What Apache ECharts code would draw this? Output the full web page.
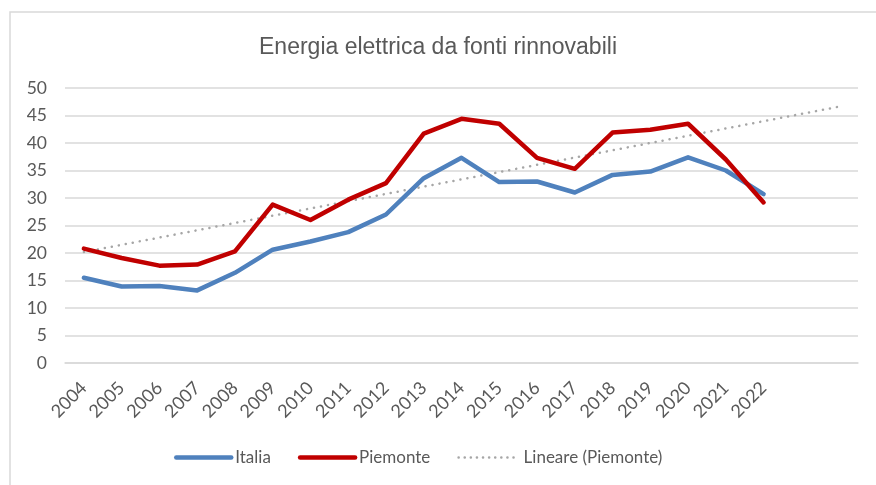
<!DOCTYPE html>
<html>
<head>
<meta charset="utf-8">
<script src="https://cdn.jsdelivr.net/npm/echarts@6/dist/echarts.min.js"></script>
<style>
  html, body { margin: 0; padding: 0; background: #fff; }
  #chart { width: 876px; height: 485px; }
</style>
</head>
<body>
<div id="chart"></div>
<script>
// Years shown on the category axis; two blank slots carry the trend forecast.
const years = ['2004','2005','2006','2007','2008','2009','2010','2011','2012','2013',
               '2014','2015','2016','2017','2018','2019','2020','2021','2022'];
const forecastSlots = ['', ''];

// Share of electricity from renewable sources (%)
const italia   = [15.5, 13.9, 14.0, 13.2, 16.4, 20.6, 22.1, 23.8, 27.0, 33.6,
                  37.3, 32.9, 33.0, 31.0, 34.2, 34.8, 37.4, 35.0, 30.7];
const piemonte = [20.8, 19.1, 17.7, 17.9, 20.3, 28.8, 26.0, 29.7, 32.7, 41.7,
                  44.4, 43.5, 37.3, 35.3, 41.9, 42.4, 43.5, 37.0, 29.2];

const yTicks = { min: 0, max: 50, interval: 5 };

// Least-squares linear trend of the Piemonte series, extended over the forecast slots
function linearTrend(values, extra) {
  const n = values.length;
  let sx = 0, sy = 0, sxx = 0, sxy = 0;
  values.forEach((v, i) => { sx += i; sy += v; sxx += i * i; sxy += i * v; });
  const slope = (n * sxy - sx * sy) / (n * sxx - sx * sx);
  const icpt = (sy - slope * sx) / n;
  const out = [];
  for (let i = 0; i < n + extra; i++) out.push(+(icpt + slope * i).toFixed(3));
  return out;
}
const trend = linearTrend(piemonte, forecastSlots.length);

const textColor = '#595959';
const font = 'Lato, "Liberation Sans", sans-serif';
const titleFont = '"Liberation Sans", Arial, sans-serif';

const chart = echarts.init(document.getElementById('chart'), null, { renderer: 'canvas' });
chart.setOption({
  backgroundColor: '#ffffff',
  animation: false,
  graphic: [{
    type: 'rect',
    shape: { x: 10, y: 12, width: 900, height: 500 },
    style: { fill: 'none', stroke: '#d9d9d9', lineWidth: 1.5 },
    silent: true
  }],
  title: {
    text: 'Energia elettrica da fonti rinnovabili',
    left: 'center',
    top: 31,
    textStyle: { color: textColor, fontSize: 23, fontWeight: 'normal', fontFamily: titleFont }
  },
  grid: { left: 65, right: 18, top: 88, bottom: 122, containLabel: false },
  xAxis: {
    type: 'category',
    data: years.concat(forecastSlots),
    boundaryGap: true,
    axisLine: { show: true, lineStyle: { color: '#d9d9d9', width: 1.5 } },
    axisTick: { show: false },
    axisLabel: {
      rotate: 45, interval: 0, color: textColor, fontSize: 18, fontFamily: font, margin: 22
    }
  },
  yAxis: {
    type: 'value',
    min: yTicks.min, max: yTicks.max, interval: yTicks.interval,
    axisLine: { show: false },
    axisTick: { show: false },
    axisLabel: { color: textColor, fontSize: 17.5, fontFamily: font, margin: 18 },
    splitLine: { lineStyle: { color: '#d9d9d9', width: 1.5 } }
  },
  legend: {
    bottom: 14,
    left: 169,
    itemWidth: 55,
    itemHeight: 8,
    itemGap: 27,
    itemStyle: { opacity: 0 },
    textStyle: { color: textColor, fontSize: 17, fontFamily: font, padding: [0, 0, 0, -1] },
    data: [
      { name: 'Italia', lineStyle: { width: 4.5, cap: 'round' } },
      { name: 'Piemonte', lineStyle: { width: 4.5, cap: 'round' } },
      { name: 'Lineare (Piemonte)', lineStyle: { width: 2.5, type: [0.1, 6], cap: 'round' },
        textStyle: { padding: [0, 0, 0, 5] } }
    ]
  },
  series: [
    {
      name: 'Italia', type: 'line', data: italia,
      symbol: 'none', showSymbol: false,
      lineStyle: { color: '#4f81bd', width: 4.5, cap: 'round', join: 'round' },
      itemStyle: { color: '#4f81bd' }, z: 3
    },
    {
      name: 'Piemonte', type: 'line', data: piemonte,
      symbol: 'none', showSymbol: false,
      lineStyle: { color: '#c00000', width: 4.5, cap: 'round', join: 'round' },
      itemStyle: { color: '#c00000' }, z: 4
    },
    {
      name: 'Lineare (Piemonte)', type: 'line', data: trend,
      symbol: 'none', showSymbol: false,
      lineStyle: { color: '#a6a6a6', width: 2.5, type: [0.1, 7], cap: 'round' },
      itemStyle: { color: '#a6a6a6' }, z: 2
    }
  ]
});
</script>
</body>
</html>
